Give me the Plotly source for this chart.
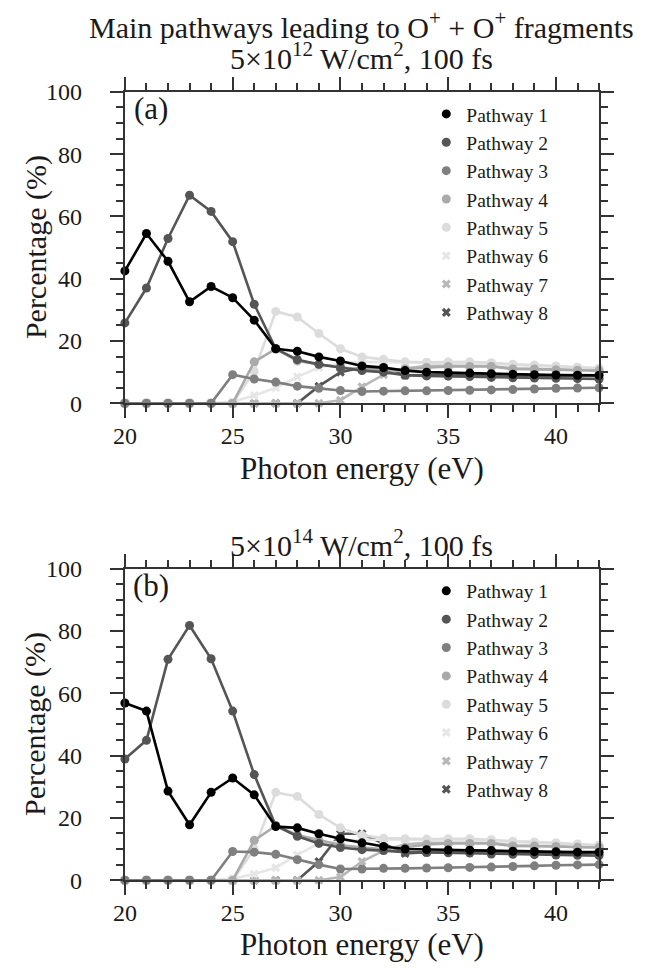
import plotly.graph_objects as go

# ---------------- data ----------------
energy = list(range(20, 43))  # Photon energy (eV)

# Panel (a): 5x10^12 W/cm^2, 100 fs
a_p1 = [42.5, 54.5, 45.6, 32.6, 37.5, 33.9, 26.7, 17.5, 16.7, 14.9, 13.6, 12.0, 11.5, 10.5, 10.0, 9.8, 9.7, 9.5, 9.3, 9.2, 9.1, 9.0, 9.0]
a_p2 = [25.8, 37.0, 52.9, 66.8, 61.6, 51.9, 31.8, 17.5, 14.0, 12.5, 11.5, 10.5, 10.0, 9.0, 8.8, 8.7, 8.6, 8.3, 8.2, 8.1, 8.0, 7.9, 7.8]
a_p3 = [0, 0, 0, 0, 0, 9.2, 7.8, 6.8, 5.5, 4.8, 4.1, 3.8, 3.9, 4.0, 4.0, 4.1, 4.2, 4.3, 4.4, 4.6, 4.8, 4.9, 5.0]
a_p4 = [0, 0, 0, 0, 0, 0, 13.3, 17.5, 13.6, 12.5, 11.5, 11.0, 10.5, 11.0, 11.5, 11.8, 11.8, 11.8, 11.0, 11.0, 10.8, 10.6, 10.5]
a_p5 = [0, 0, 0, 0, 0, 0, 10.2, 29.5, 27.7, 22.4, 17.5, 14.9, 14.1, 13.3, 13.2, 13.3, 13.3, 13.0, 12.5, 12.3, 12.0, 11.6, 11.2]
a_p6 = [0, 0, 0, 0, 0, 0.5, 2.5, 5.0, 8.5, 11.5, 12.8, 13.3, 13.2, 13.0, 13.0, 13.0, 13.0, 12.8, 12.3, 12.0, 11.8, 11.5, 11.2]
a_p7 = [0, 0, 0, 0, 0, 0, 0, 0, 0, 0, 1.0, 5.3, 9.2, 11.2, 12.0, 12.0, 12.0, 12.0, 11.2, 11.0, 11.0, 10.8, 10.6]
a_p8 = [0, 0, 0, 0, 0, 0, 0, 0, 0, 5.5, 10.0, 11.5, 11.2, 9.0, 9.0, 9.2, 9.2, 9.2, 8.8, 8.8, 8.8, 8.8, 8.8]

# Panel (b): 5x10^14 W/cm^2, 100 fs
b_p1 = [56.9, 54.3, 28.6, 17.8, 28.2, 32.8, 27.4, 17.2, 16.8, 14.9, 13.3, 12.0, 10.8, 10.0, 9.8, 9.7, 9.6, 9.5, 9.3, 9.2, 9.1, 9.0, 9.0]
b_p2 = [38.9, 44.9, 70.9, 81.8, 71.1, 54.3, 33.9, 17.5, 14.1, 11.8, 10.5, 9.8, 9.5, 9.0, 8.9, 8.8, 8.7, 8.4, 8.3, 8.2, 8.1, 8.0, 7.9]
b_p3 = [0, 0, 0, 0, 0, 9.2, 9.0, 8.3, 6.6, 5.0, 3.6, 3.6, 3.8, 3.8, 3.9, 4.0, 4.1, 4.2, 4.4, 4.6, 4.8, 4.9, 5.0]
b_p4 = [0, 0, 0, 0, 0, 0, 12.8, 17.5, 14.5, 12.8, 11.3, 10.5, 10.0, 10.5, 11.5, 11.8, 11.8, 11.8, 11.0, 11.0, 10.8, 10.6, 10.5]
b_p5 = [0, 0, 0, 0, 0, 0, 10.0, 28.2, 26.9, 21.1, 16.8, 14.4, 13.5, 13.3, 13.2, 13.3, 13.3, 13.0, 12.5, 12.3, 12.0, 11.6, 11.2]
b_p6 = [0, 0, 0, 0, 0, 0.5, 2.0, 4.0, 8.1, 11.8, 12.5, 13.0, 13.0, 13.0, 13.0, 13.0, 13.0, 12.8, 12.3, 12.0, 11.8, 11.5, 11.2]
b_p7 = [0, 0, 0, 0, 0, 0, 0, 0, 0, 0, 1.0, 6.0, 9.5, 11.5, 12.0, 12.0, 12.0, 12.0, 11.2, 11.0, 11.0, 10.8, 10.6]
b_p8 = [0, 0, 0, 0, 0, 0, 0, 0, 0, 6.0, 14.9, 14.9, 11.8, 8.6, 9.0, 9.2, 9.2, 9.2, 8.8, 8.8, 8.8, 8.8, 8.8]

names = ["Pathway 1", "Pathway 2", "Pathway 3", "Pathway 4",
         "Pathway 5", "Pathway 6", "Pathway 7", "Pathway 8"]
colors = ["#000000", "#555555", "#7f7f7f", "#aaaaaa",
          "#dcdcdc", "#e6e6e6", "#b8b8b8", "#555555"]
symbols = ["circle"] * 5 + ["x"] * 3

panel_a = [a_p1, a_p2, a_p3, a_p4, a_p5, a_p6, a_p7, a_p8]
panel_b = [b_p1, b_p2, b_p3, b_p4, b_p5, b_p6, b_p7, b_p8]

title_a1 = "Main pathways leading to O<sup>+</sup> + O<sup>+</sup> fragments"
title_a2 = "5×10<sup>12</sup> W/cm<sup>2</sup>, 100 fs"
title_b = "5×10<sup>14</sup> W/cm<sup>2</sup>, 100 fs"
xlabel = "Photon energy (eV)"
ylabel = "Percentage (%)"

# ---------------- figure ----------------
W, H = 657, 973
FONT = "Liberation Serif"
TXT = "#1a1a1a"
fig = go.Figure()

x0, x1 = 115 / W, 598 / W
dom_a = [1 - 401 / H, 1 - 81 / H]
dom_b = [1 - 891 / H, 1 - 571 / H]

for panel, xa, ya, leg in [(panel_a, "x", "y", "legend"), (panel_b, "x2", "y2", "legend2")]:
    for i in reversed(range(8)):
        fig.add_trace(go.Scatter(
            x=energy, y=panel[i], mode="lines+markers", name=names[i],
            line=dict(color=colors[i], width=2.6),
            marker=dict(color=colors[i], size=9 if symbols[i] == "circle" else 8,
                        symbol=symbols[i]),
            xaxis=xa, yaxis=ya, showlegend=False, cliponaxis=False,
        ))
    for i in range(8):
        fig.add_trace(go.Scatter(
            x=[None], y=[None], mode="markers", name=names[i],
            marker=dict(color=colors[i], size=9 if symbols[i] == "circle" else 8,
                        symbol=symbols[i]),
            xaxis=xa, yaxis=ya, showlegend=True, legend=leg,
        ))

axis_common = dict(
    showline=True, linecolor="#333333", linewidth=2, mirror="allticks",
    ticks="outside", ticklen=13, tickwidth=2, tickcolor="#333333",
    showgrid=False, zeroline=False,
    tickfont=dict(family=FONT, size=24, color=TXT),
)
xaxis_common = dict(axis_common, range=[20, 42], tick0=20, dtick=5, ticklabelstandoff=-3,
                    minor=dict(dtick=1, ticklen=7, tickwidth=2, tickcolor="#333333", ticks="outside"))
yaxis_common = dict(axis_common, range=[0, 100], tick0=0, dtick=20, ticklabelstandoff=23,
                    minor=dict(dtick=5, ticklen=7, tickwidth=2, tickcolor="#333333", ticks="outside"))

legend_common = dict(
    font=dict(family=FONT, size=19.5, color=TXT),
    bgcolor="rgba(0,0,0,0)", borderwidth=0,
    xanchor="left", yanchor="top", x=422 / W, itemwidth=30,
)

fig.update_layout(
    width=W, height=H,
    margin=dict(l=0, r=0, t=0, b=0),
    paper_bgcolor="white", plot_bgcolor="white",
    font=dict(family=FONT, color=TXT),
    xaxis=dict(xaxis_common, domain=[x0, x1], anchor="y"),
    yaxis=dict(yaxis_common, domain=dom_a, anchor="x"),
    xaxis2=dict(xaxis_common, domain=[x0, x1], anchor="y2"),
    yaxis2=dict(yaxis_common, domain=dom_b, anchor="x2"),
    legend=dict(legend_common, y=1 - 84 / H),
    legend2=dict(legend_common, y=1 - 574 / H),
)

xc = (x0 + x1) / 2
ann = []
def txt(text, x, y, size, angle=0):
    ann.append(dict(text=text, x=x, y=y, xref="paper", yref="paper", showarrow=False,
                    xanchor="center", yanchor="middle", textangle=angle,
                    font=dict(family=FONT, size=size, color=TXT)))

txt(title_a1, xc, 1 - 12 / H, 30)
txt(title_a2, xc, 1 - 44 / H, 30)
txt(title_b, xc, 1 - 545 / H, 30)
txt(xlabel, xc, 1 - 468 / H, 31)
txt(xlabel, xc, 1 - 957 / H, 31)
txt(ylabel, 24 / W, 1 - 241 / H, 30, -90)
txt(ylabel, 24 / W, 1 - 731 / H, 30, -90)
txt("(a)", 142 / W, 1 - 98 / H, 31)
txt("(b)", 142 / W, 1 - 588 / H, 31)
fig.update_layout(annotations=ann)

fig.write_html("out.html")
